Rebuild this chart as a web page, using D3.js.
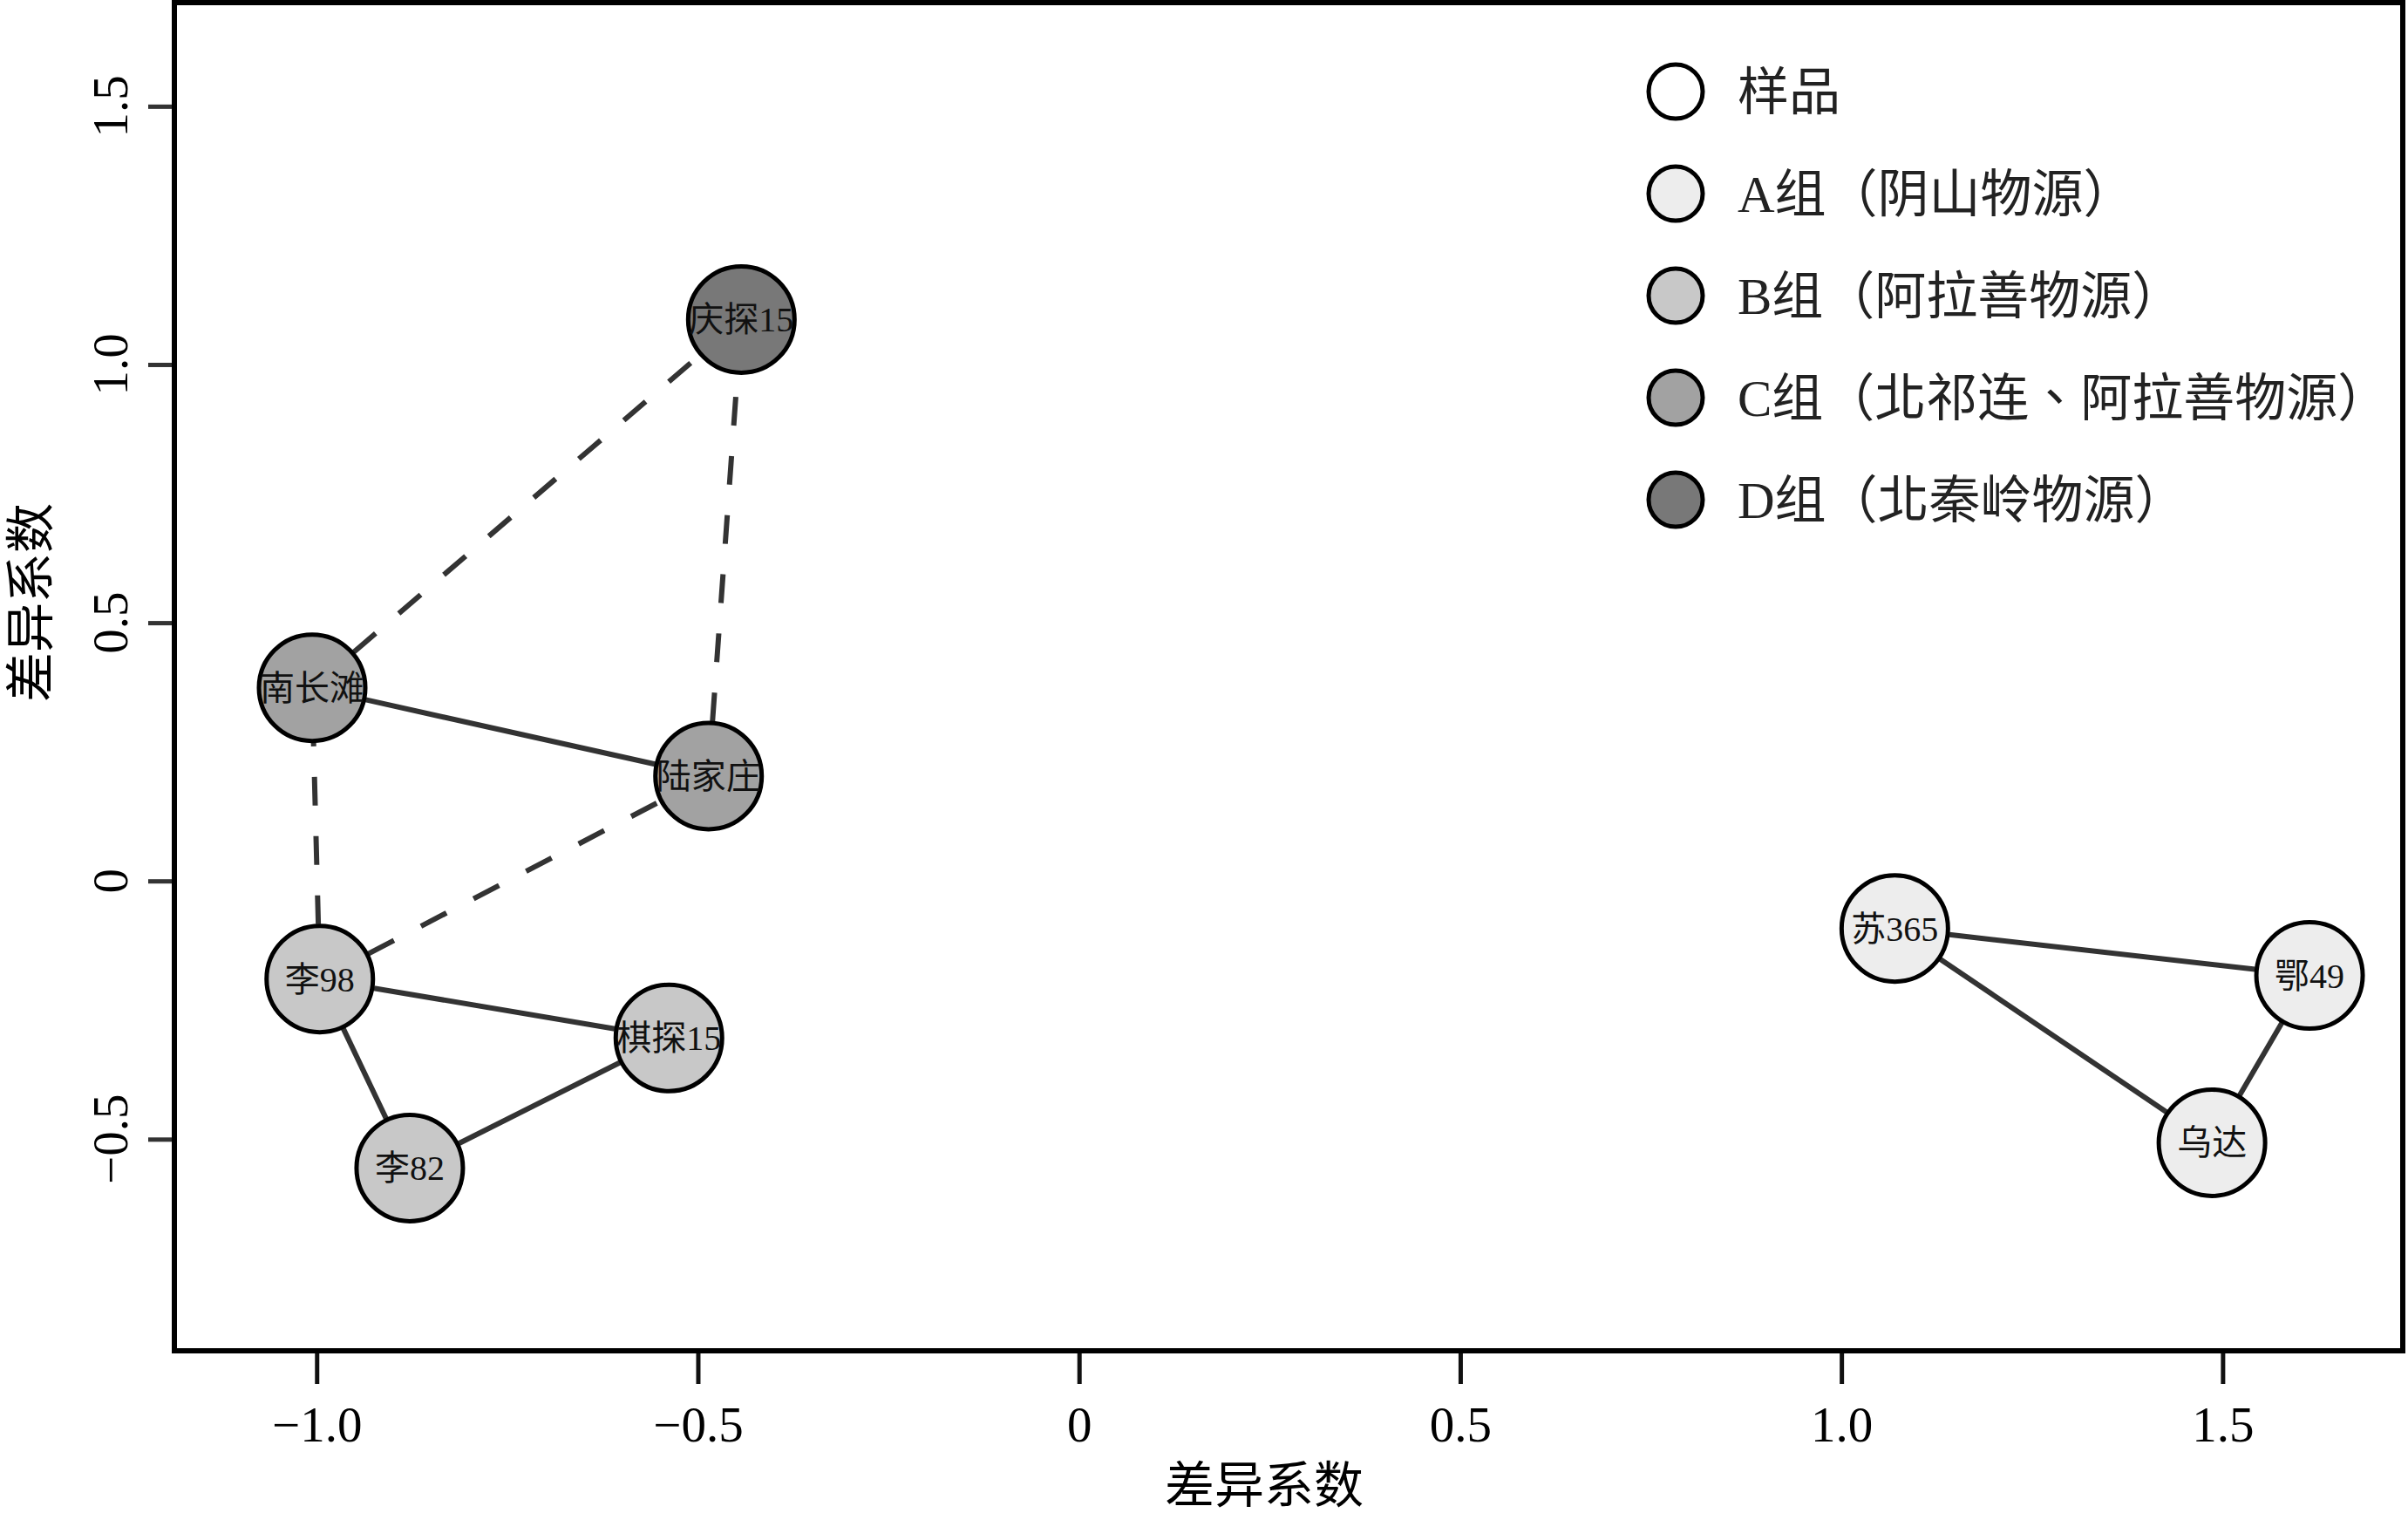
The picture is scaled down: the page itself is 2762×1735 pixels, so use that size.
<!DOCTYPE html>
<html>
<head>
<meta charset="utf-8">
<script src="https://cdn.jsdelivr.net/npm/d3@7"></script>
<style>
  body { margin: 0; background: #fff; }
  svg { display: block; }
  text { font-family: "Liberation Serif", "Noto Sans CJK SC", serif; }
  .legend text { font-family: "Liberation Serif", "Noto Sans CJK TC", serif; }
</style>
</head>
<body>
<svg id="chart"></svg>
<script>
// sample names, groups and coordinates
var names  = ['庆探15', '南长滩', '陆家庄', '李98', '棋探15', '李82', '苏365', '鄂49', '乌达'];
var groups = ['D', 'C', 'C', 'B', 'B', 'B', 'A', 'A', 'A'];
var xs     = [-0.443, -1.006, -0.486, -0.996, -0.538, -0.878, 1.070, 1.614, 1.486];
var ys     = [1.087, 0.374, 0.203, -0.190, -0.304, -0.556, -0.092, -0.183, -0.507];

// edges: from, to, dashed
var edgeFrom   = ['南长滩', '陆家庄', '李98', '李98', '南长滩', '李98', '李98', '李82', '苏365', '苏365', '鄂49'];
var edgeTo     = ['庆探15', '庆探15', '南长滩', '陆家庄', '陆家庄', '棋探15', '李82', '棋探15', '鄂49', '乌达', '乌达'];
var edgeDashed = [true, true, true, true, false, false, false, false, false, false, false];

var legendKeys   = ['样品', 'A', 'B', 'C', 'D'];
var legendLabels = ['样品', 'A组（阴山物源）', 'B组（阿拉善物源）', 'C组（北祁连、阿拉善物源）', 'D组（北秦岭物源）'];
var groupColors  = ['#ffffff', '#ededed', '#c8c8c8', '#a2a2a2', '#787878'];

var xTicks = [-1.0, -0.5, 0, 0.5, 1.0, 1.5];
var xTickLabels = ['\u22121.0', '\u22120.5', '0', '0.5', '1.0', '1.5'];
var yTicks = [-0.5, 0, 0.5, 1.0, 1.5];
var yTickLabels = ['\u22120.5', '0', '0.5', '1.0', '1.5'];

var width = 2762, height = 1735;
var plotLeft = 200, plotRight = 2756, plotTop = 3, plotBottom = 1549;
var r = 61;

var svg = d3.select('#chart')
	.attr('width', width)
	.attr('height', height);

var x = d3.scaleLinear().domain([-1.1867, 1.7363]).range([plotLeft, plotRight]);
var y = d3.scaleLinear().domain([-0.9098, 1.7007]).range([plotBottom, plotTop]);
var color = d3.scaleOrdinal().domain(legendKeys).range(groupColors);

var nodes = names.map(function(n, i) {
	return {name: n, group: groups[i], px: x(xs[i]), py: y(ys[i])};
});
var byName = {};
nodes.forEach(function(d) { byName[d.name] = d; });

// edges start and stop at the circle rims so the dash pattern begins there
var edges = edgeFrom.map(function(f, i) {
	var a = byName[f], b = byName[edgeTo[i]];
	var dx = b.px - a.px, dy = b.py - a.py;
	var len = Math.sqrt(dx * dx + dy * dy);
	var ux = dx / len, uy = dy / len;
	var rr = r + 2;
	return {x1: a.px + ux * rr, y1: a.py + uy * rr, x2: b.px - ux * rr, y2: b.py - uy * rr, dashed: edgeDashed[i]};
});

// axes
var xAxis = svg.append('g')
	.attr('transform', 'translate(0,' + plotBottom + ')')
	.call(d3.axisBottom(x).tickValues(xTicks).tickSize(38)
		.tickFormat(function(d, i) { return xTickLabels[i]; }));
xAxis.select('.domain').remove();
xAxis.selectAll('line').attr('stroke', '#111').attr('stroke-width', 5);
xAxis.selectAll('text')
	.attr('y', 104).attr('dy', null)
	.attr('fill', '#000')
	.style('font-size', '57px');

var yAxis = svg.append('g')
	.attr('transform', 'translate(' + plotLeft + ',0)')
	.call(d3.axisLeft(y).tickValues(yTicks).tickSize(30).tickFormat(''));
yAxis.select('.domain').remove();
yAxis.selectAll('line').attr('stroke', '#333').attr('stroke-width', 5);

svg.append('g').selectAll('text')
	.data(yTicks)
	.enter().append('text')
	.attr('transform', function(d) { return 'translate(146,' + y(d) + ') rotate(-90)'; })
	.attr('text-anchor', 'middle')
	.style('font-size', '57px')
	.text(function(d, i) { return yTickLabels[i]; });

// axis titles
svg.append('text')
	.attr('x', 1450)
	.attr('y', 1723)
	.attr('text-anchor', 'middle')
	.style('font-size', '57px')
	.text('差异系数');

svg.append('text')
	.attr('transform', 'translate(55,691) rotate(-90)')
	.attr('text-anchor', 'middle')
	.style('font-size', '57px')
	.text('差异系数');

// edges
svg.append('g').selectAll('line')
	.data(edges)
	.enter().append('line')
	.attr('x1', function(d) { return d.x1; })
	.attr('y1', function(d) { return d.y1; })
	.attr('x2', function(d) { return d.x2; })
	.attr('y2', function(d) { return d.y2; })
	.attr('stroke', '#333')
	.attr('stroke-width', 6)
	.attr('stroke-dasharray', function(d) { return d.dashed ? '33,35' : null; });

// nodes
var node = svg.append('g').selectAll('g')
	.data(nodes)
	.enter().append('g')
	.attr('transform', function(d) { return 'translate(' + d.px + ',' + d.py + ')'; });

node.append('circle')
	.attr('r', r)
	.attr('fill', function(d) { return color(d.group); })
	.attr('stroke', '#000')
	.attr('stroke-width', 5);

node.append('text')
	.attr('text-anchor', 'middle')
	.attr('y', 14)
	.attr('fill', '#111')
	.style('font-size', '40px')
	.text(function(d) { return d.name; });

// legend
var legend = svg.append('g').attr('class', 'legend').selectAll('g')
	.data(legendKeys)
	.enter().append('g')
	.attr('transform', function(d, i) { return 'translate(1922,' + (105 + i * 117) + ')'; });

legend.append('circle')
	.attr('r', 31)
	.attr('fill', function(d) { return color(d); })
	.attr('stroke', '#000')
	.attr('stroke-width', 5);

legend.append('text')
	.attr('x', 71)
	.attr('y', 21)
	.attr('fill', '#222')
	.style('font-size', '59px')
	.text(function(d, i) { return legendLabels[i]; });

// plot frame
svg.append('rect')
	.attr('x', plotLeft)
	.attr('y', plotTop)
	.attr('width', plotRight - plotLeft)
	.attr('height', plotBottom - plotTop)
	.attr('fill', 'none')
	.attr('stroke', '#000')
	.attr('stroke-width', 6);
</script>
</body>
</html>
